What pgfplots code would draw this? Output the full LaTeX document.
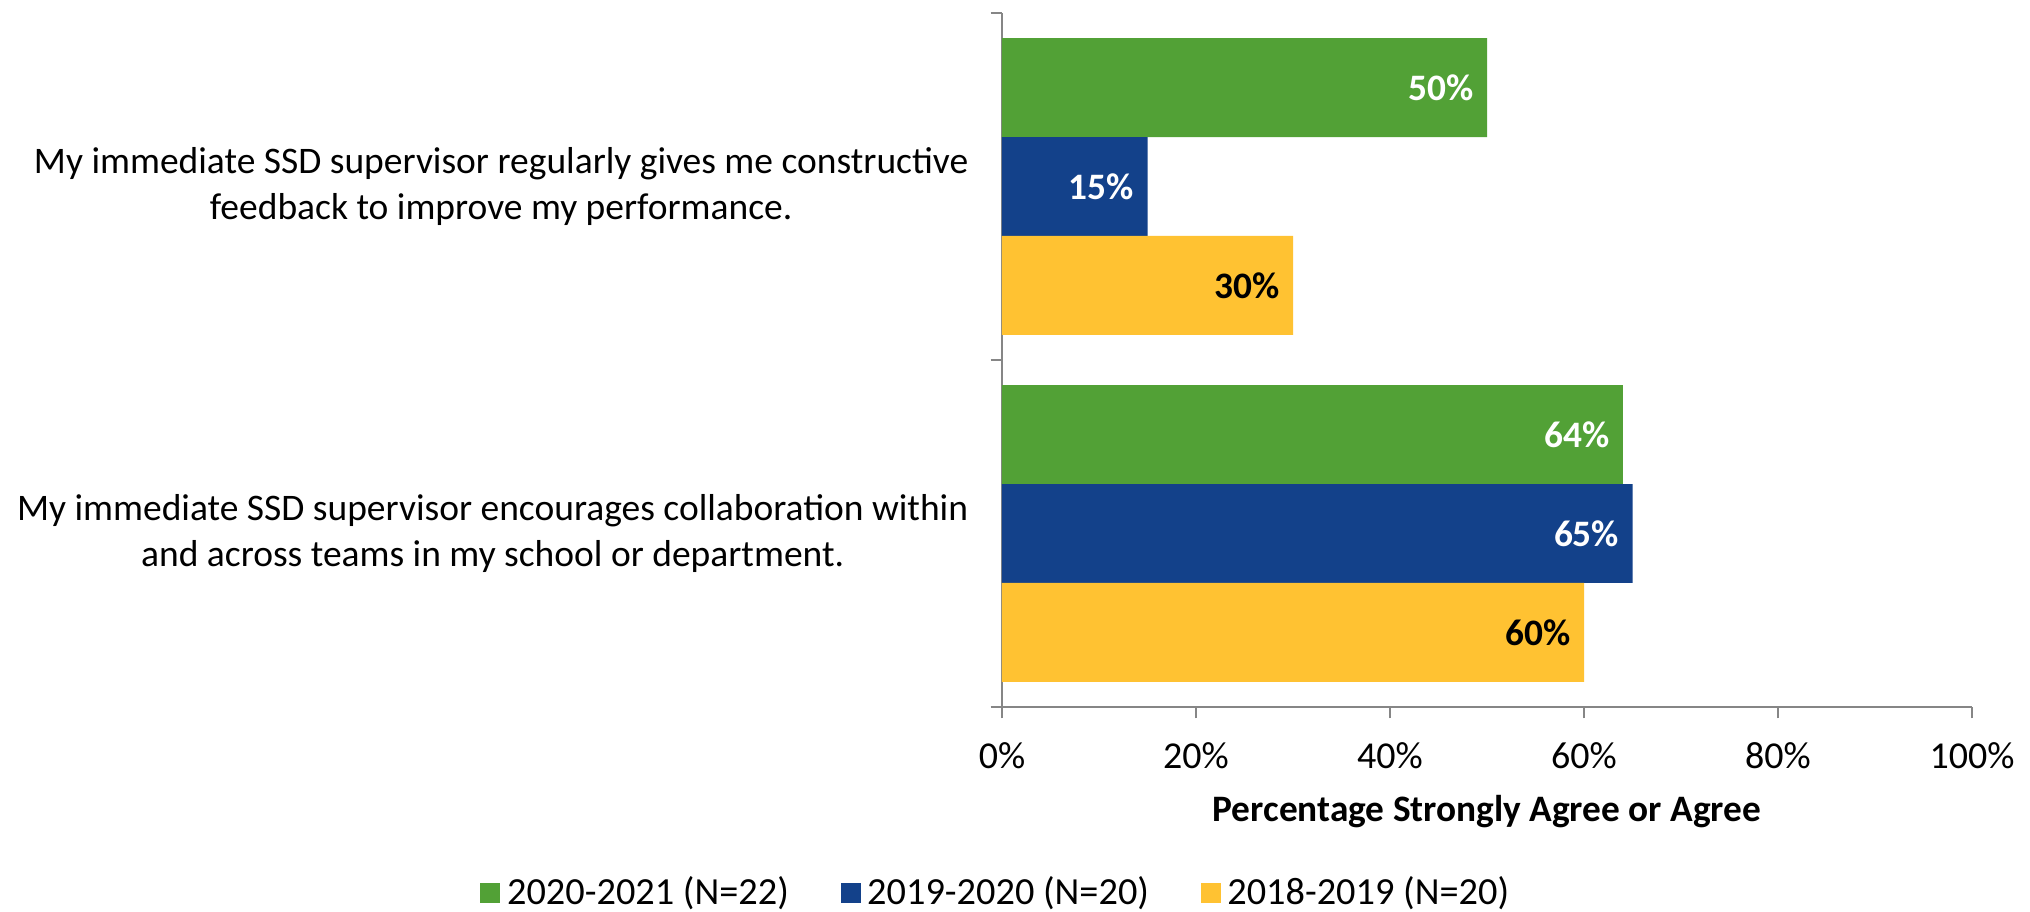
\documentclass[border=0pt]{standalone}
\usepackage{fontspec}
\setmainfont{Carlito}
\usepackage{pgfplots}
\pgfplotsset{compat=1.18}

\definecolor{cgreen}{HTML}{52A136}
\definecolor{cblue}{HTML}{13418A}
\definecolor{cyellow}{HTML}{FFC232}
\definecolor{caxis}{HTML}{868686}

\begin{document}
\begin{tikzpicture}
\begin{axis}[
    scale only axis,
    width=291pt, height=208.2pt,
    xbar, bar width=0.285,
    xmin=0, xmax=100, ymin=0, ymax=2,
    axis x line*=bottom, axis y line*=left,
    axis line style={draw=caxis, line width=0.6pt},
    tick style={draw=caxis, line width=0.6pt},
    tick align=outside,
    major tick length=3.4pt,
    xtick={0,20,...,100},
    xticklabel={\pgfmathprintnumber{\tick}\%},
    ytick={0,1,2},
    yticklabels={},
    extra y ticks={0.5,1.5},
    extra y tick labels={{My immediate SSD supervisor encourages collaboration within\\and across teams in my school or department.},
                 {My immediate SSD supervisor regularly gives me constructive\\feedback to improve my performance.}},
    extra y tick style={major tick length=0pt, tick style={draw=none},
        yticklabel style={align=center, font=\fontsize{11.25}{13.8}\selectfont, xshift=-6.6pt}},
    xticklabel style={font=\fontsize{11.4}{13}\selectfont, yshift=-3.8pt},
    /pgf/number format/assume math mode=true,
    xlabel={\bfseries Percentage Strongly Agree or Agree},
    xlabel style={at={(axis description cs:0.5,-0.1513)}, anchor=center, font=\fontsize{11.2}{13}\selectfont},
    nodes near coords={\pgfmathprintnumber{\pgfplotspointmeta}\%},
    nodes near coords style={anchor=east, font=\fontsize{11.2}{13}\selectfont\bfseries, xshift=-0.5pt},
    legend columns=3,
    legend style={at={(-0.004,-0.2685)}, anchor=center, draw=none,
        font=\fontsize{11.5}{13}\selectfont,
        /tikz/every even column/.append style={column sep=13.5pt}},
    legend image code/.code={\fill[#1] (0pt,-3pt) rectangle (6pt,3pt);},
]
\addplot[fill=cgreen, draw=none, bar shift=0.285, nodes near coords style={text=white}]
    coordinates {(64,0.5) (50,1.5)};
\addplot[fill=cblue, draw=none, bar shift=0, nodes near coords style={text=white}]
    coordinates {(65,0.5) (15,1.5)};
\addplot[fill=cyellow, draw=none, bar shift=-0.285, nodes near coords style={text=black}]
    coordinates {(60,0.5) (30,1.5)};
\legend{2020-2021 (N=22), 2019-2020 (N=20), 2018-2019 (N=20)}
\coordinate (O) at (rel axis cs:0,0);
\end{axis}
\pgfresetboundingbox
\path (O) ++(-300.6pt,-61.2pt) rectangle ++(609pt,273.3pt);
\end{tikzpicture}
\end{document}
